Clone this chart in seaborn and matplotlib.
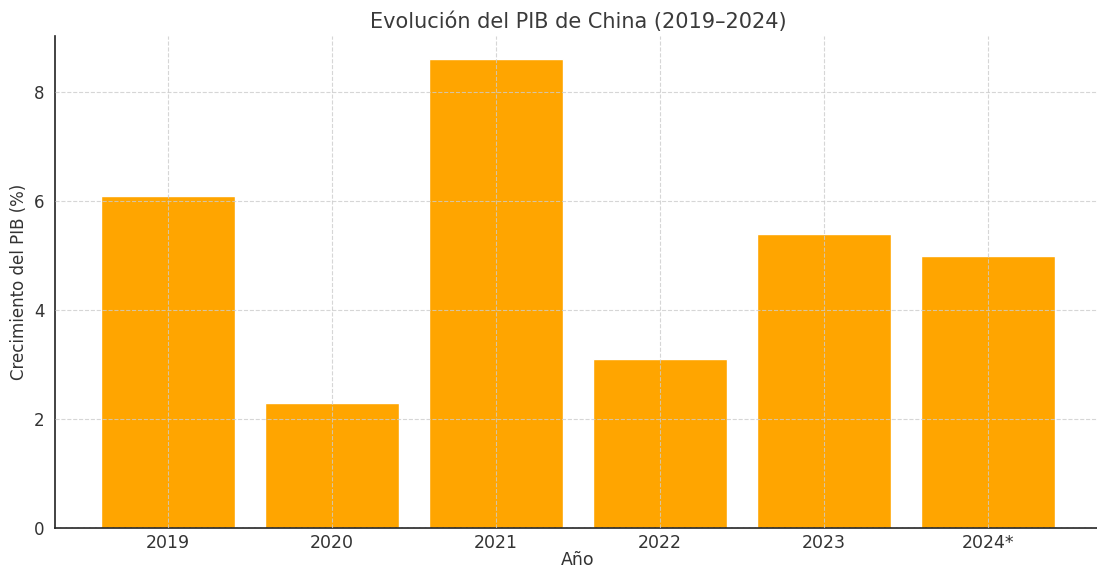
import matplotlib
matplotlib.use('Agg')
import matplotlib.pyplot as plt
import seaborn as sns
import pandas as pd

# PIB de China, crecimiento anual (%)
years = ['2019', '2020', '2021', '2022', '2023', '2024*']
growth = [6.1, 2.3, 8.6, 3.1, 5.4, 5.0]

df = pd.DataFrame({'Año': years, 'Crecimiento': growth})

sns.set_style('white')
plt.rcParams['font.family'] = ['DejaVu Sans']
plt.rcParams['text.color'] = '#333333'
plt.rcParams['axes.labelcolor'] = '#333333'
plt.rcParams['xtick.color'] = '#333333'
plt.rcParams['ytick.color'] = '#333333'

fig, ax = plt.subplots(figsize=(10.97, 5.69), dpi=100)
sns.barplot(data=df, x='Año', y='Crecimiento', color='#FFA500', saturation=1,
            width=0.82, ax=ax)

ax.set_xlim(-0.69, 5.69)
ax.set_ylim(0, 9.03)
ax.set_yticks([0, 2, 4, 6, 8])
ax.tick_params(axis='y', labelsize=12, length=4, width=0.8)
ax.tick_params(axis='x', labelsize=12.5, length=4, width=0.8, pad=0.5)

ax.set_title('Evolución del PIB de China (2019–2024)', fontsize=15, pad=6,
             color='#3a3a3a')
ax.set_xlabel('Año', fontsize=12.5, labelpad=-1)
ax.set_ylabel('Crecimiento del PIB (%)', fontsize=12)

ax.set_axisbelow(False)
ax.grid(True, linestyle='--', color='#cccccc', linewidth=0.8, alpha=0.8)
sns.despine(ax=ax)
for side in ['left', 'bottom']:
    ax.spines[side].set_color('#222222')
    ax.spines[side].set_linewidth(1.2)

# right edge of the axes runs slightly past the image, as in the reference
plt.subplots_adjust(left=0.0501, right=1.0036, top=0.937, bottom=0.072)
plt.savefig('out.png', dpi=100)
